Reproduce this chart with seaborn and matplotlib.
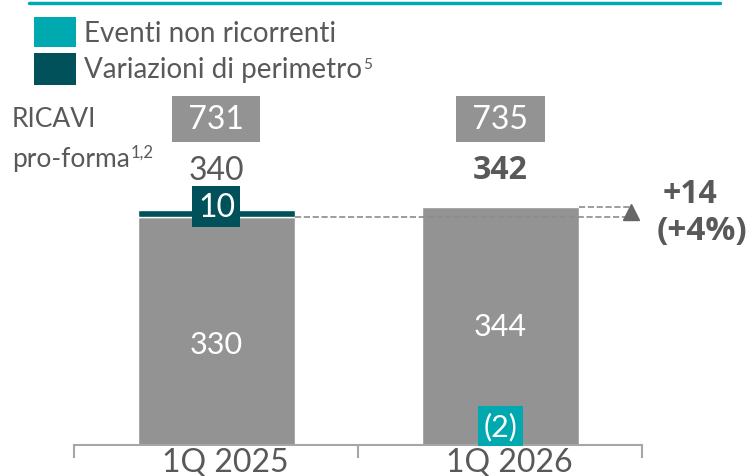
import matplotlib
matplotlib.use("Agg")
import matplotlib.pyplot as plt
import matplotlib.transforms as mtransforms
from matplotlib.patches import Rectangle
from matplotlib.lines import Line2D
import seaborn as sns
import pandas as pd

# Chart data
periods = ["1Q 2025", "1Q 2026"]
base = [330, 344]
perimetro = [10, 0]
eventi = [0, -2]
totali = [340, 342]
ricavi_pf = [731, 735]
delta_label = ["+14", "(+4%)"]

GRAY = "#939393"
TEAL = "#00A9B0"
DARK = "#00515A"
TXT = "#595959"

sns.set_theme(style="white")
plt.rcParams["font.family"] = ["Lato", "DejaVu Sans"]
BOLD = ["Open Sans", "DejaVu Sans"]

df = pd.DataFrame({"period": periods, "base": base})

fig = plt.figure(figsize=(7.51, 4.77), dpi=100)
ax = fig.add_axes([0, 0, 1, 1])
sns.barplot(data=df, x="period", y="base", color=GRAY, width=0.553,
            saturation=1, ax=ax)
ax.bar([0], [perimetro[0]], bottom=[base[0]], width=0.553, color=DARK)
ax.bar([1], [eventi[1]], width=0.553, color=TEAL)

ax.set_xlim(-0.762, 1.882)
ax.set_ylim(-45, 646)
ax.set_xlabel("")
ax.set_ylabel("")
ax.set_yticks([])
for s in ["top", "left", "right"]:
    ax.spines[s].set_visible(False)
ax.spines["bottom"].set_position(("data", 0))
ax.spines["bottom"].set_bounds(-0.5, 1.5)
ax.spines["bottom"].set_color("#A6A6A6")
ax.spines["bottom"].set_linewidth(1.5)
ax.set_xticks([0, 1])
ax.set_xticklabels(periods, fontsize=23, color=TXT)
ax.set_xticks([-0.5, 0.5, 1.5], minor=True)
ax.tick_params(axis="x", which="major", length=0, pad=1)
ax.tick_params(axis="x", which="minor", length=9, width=1.5,
               color="#A6A6A6", direction="out", bottom=True)
shift = mtransforms.ScaledTranslation(9 / 100, 0, fig.dpi_scale_trans)
for lab in ax.get_xticklabels():
    lab.set_transform(lab.get_transform() + shift)

# values inside bars
ax.text(0, 146, str(base[0]), ha="center", va="center", color="white", fontsize=22)
ax.text(1, 172, str(base[1]), ha="center", va="center", color="white", fontsize=22)

# perimeter box
ax.text(0, base[0] + 15, str(perimetro[0]), ha="center", va="center",
        color="white", fontsize=23,
        bbox=dict(boxstyle="square,pad=0.17", fc=DARK, ec="none"))
# events box
ax.text(1, 27, f"({abs(eventi[1])})", ha="center", va="center",
        color="white", fontsize=22,
        bbox=dict(boxstyle="square,pad=0.18", fc=TEAL, ec="none"))

# totals and pro-forma boxes
for i in range(2):
    ax.text(i, 399, str(totali[i]), ha="center", va="center", color=TXT,
            fontsize=23, fontweight="bold" if i else "normal",
            family=BOLD if i else ["Lato", "DejaVu Sans"])
    ax.text(i, 472, f" {ricavi_pf[i]} ", ha="center", va="center",
            color="white", fontsize=23,
            bbox=dict(boxstyle="square,pad=0.25", fc=GRAY, ec="none"))

# dashed comparison lines
ax.plot([0.2765, 1.46], [base[0], base[0]], ls="--", color="#8C8C8C", lw=1.2)
ax.plot([1.2765, 1.46], [base[1], base[1]], ls="--", color="#8C8C8C", lw=1.2)
ax.plot([1.46], [base[1] - 6], marker="^", ms=11, color="#666666")
ax.text(1.667, 364, delta_label[0], ha="center", va="center", color=TXT,
        fontsize=23, fontweight="bold", family=BOLD)
ax.text(1.71, 311, delta_label[1], ha="center", va="center", color=TXT,
        fontsize=24, fontweight="bold", family=BOLD)

# RICAVI label
fig.text(12 / 751, 1 - 120 / 477, "RICAVI", fontsize=19, color=TXT, va="center")
pf = fig.text(12 / 751, 1 - 160 / 477, "pro-forma", fontsize=19, color=TXT,
              va="center")
fig.add_artist(plt.Annotation("1,2", xy=(1.0, 1.0), xycoords=pf,
                              xytext=(0.5, 2), textcoords="offset points",
                              fontsize=12, color=TXT, va="top", ha="left"))

# top rule and legend
fig.add_artist(Line2D([29 / 751, 720 / 751], [1 - 4 / 477, 1 - 4 / 477],
                      color=TEAL, lw=2.5))
fig.add_artist(Rectangle((34 / 751, 1 - 48 / 477), 42 / 751, 30 / 477,
                         transform=fig.transFigure, fc=TEAL, ec="none"))
fig.add_artist(Rectangle((34 / 751, 1 - 86 / 477), 42 / 751, 32 / 477,
                         transform=fig.transFigure, fc=DARK, ec="none"))
fig.text(84 / 751, 1 - 34 / 477, "Eventi non ricorrenti", fontsize=20,
         color=TXT, va="center")
vp = fig.text(84 / 751, 1 - 70 / 477, "Variazioni di perimetro", fontsize=20,
              color=TXT, va="center")
fig.add_artist(plt.Annotation("5", xy=(1.0, 1.0), xycoords=vp,
                              xytext=(0.5, -1), textcoords="offset points",
                              fontsize=11, color=TXT, va="top", ha="left"))

fig.savefig("out.png", dpi=100)
